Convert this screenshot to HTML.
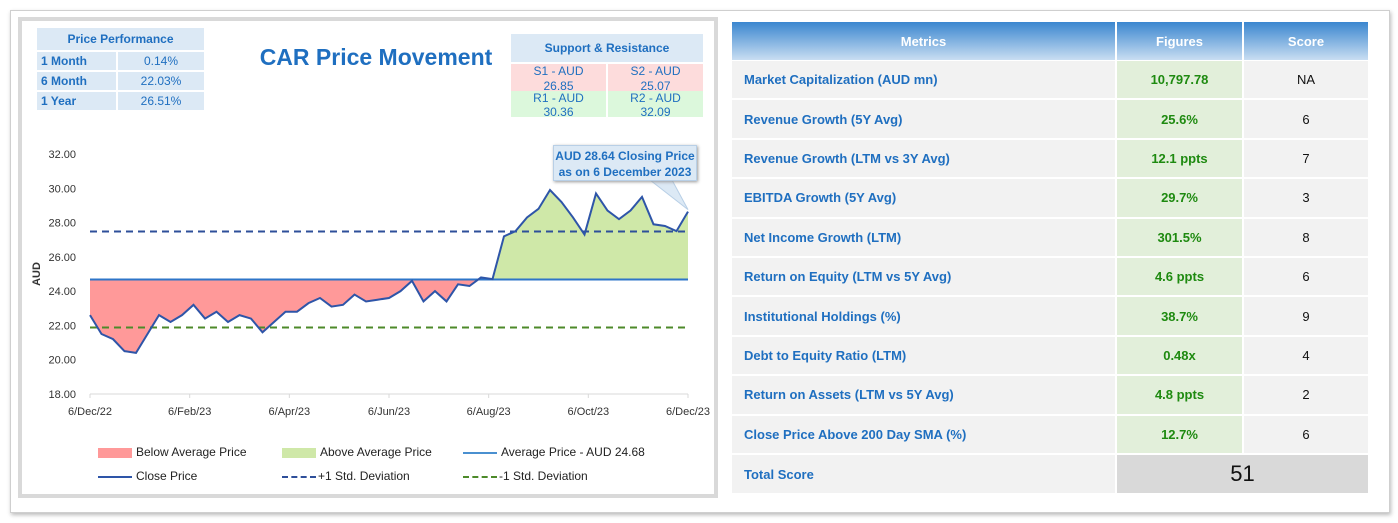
<!DOCTYPE html>
<html><head><meta charset="utf-8">
<style>
*{box-sizing:border-box;margin:0;padding:0}
body{width:1398px;height:523px;background:#fff;position:relative;overflow:hidden;font-family:"Liberation Sans",sans-serif}
.abs{position:absolute}
.c{display:flex;align-items:center;justify-content:center}
.pp{background:#dce9f5;color:#1f6fc0;font-size:12px;font-weight:bold}
.cell{position:absolute;display:flex;align-items:center;font-size:13px}
</style></head><body>
<div class="abs" style="left:10px;top:10px;width:1380px;height:503px;border:1px solid #cfcfcf;box-shadow:1px 2px 4px #bbb"></div>
<div class="abs" style="left:18px;top:17px;width:700px;height:481px;border:4px solid #d9d9d9;background:#fff"></div>

<!-- price performance -->
<div class="abs c pp" style="left:37px;top:28px;width:167px;height:22px">Price Performance</div>
<div class="abs pp" style="left:37px;top:52px;width:79px;height:18px;padding:2px 4px">1 Month</div>
<div class="abs c pp" style="left:118px;top:52px;width:86px;height:18px;font-weight:normal">0.14%</div>
<div class="abs pp" style="left:37px;top:72px;width:79px;height:18px;padding:2px 4px">6 Month</div>
<div class="abs c pp" style="left:118px;top:72px;width:86px;height:18px;font-weight:normal">22.03%</div>
<div class="abs pp" style="left:37px;top:92px;width:79px;height:18px;padding:2px 4px">1 Year</div>
<div class="abs c pp" style="left:118px;top:92px;width:86px;height:18px;font-weight:normal">26.51%</div>

<div class="abs" style="left:250px;top:44px;width:252px;text-align:center;font-size:23px;font-weight:bold;color:#1f6fc0">CAR Price Movement</div>

<!-- support resistance -->
<div class="abs c pp" style="left:511px;top:34px;width:192px;height:28px">Support &amp; Resistance</div>
<div class="abs" style="left:511px;top:64px;width:95px;height:27px;background:#fddcdc;color:#1f6fc0;font-size:12px;text-align:center;line-height:15px">S1 - AUD<br>26.85</div>
<div class="abs" style="left:608px;top:64px;width:95px;height:27px;background:#fddcdc;color:#1f6fc0;font-size:12px;text-align:center;line-height:15px">S2 - AUD<br>25.07</div>
<div class="abs" style="left:511px;top:91px;width:95px;height:26px;background:#dcf8dc;color:#1f6fc0;font-size:12px;text-align:center;line-height:14px">R1 - AUD<br>30.36</div>
<div class="abs" style="left:608px;top:91px;width:95px;height:26px;background:#dcf8dc;color:#1f6fc0;font-size:12px;text-align:center;line-height:14px">R2 - AUD<br>32.09</div>

<svg id="chart" class="abs" style="left:0;top:0" width="720" height="500"></svg>

<!-- callout -->
<div class="abs" style="left:553px;top:145px;width:144px;height:36px;background:#dce9f5;border:1px solid #b8cfe6;box-shadow:1px 1px 3px #999;color:#1f6fc0;font-size:12px;font-weight:bold;text-align:center;line-height:16px;padding-top:2px">AUD 28.64 Closing Price<br>as on 6 December 2023</div>

<!-- legend -->
<div class="abs" style="left:0;top:0;font-size:12px;color:#222">
 <div class="abs" style="left:98px;top:445px;width:260px;height:16px;white-space:nowrap"><span style="display:inline-block;width:34px;height:10px;background:#ff9999;vertical-align:middle;margin-right:4px"></span>Below Average Price</div>
 <div class="abs" style="left:282px;top:445px;white-space:nowrap"><span style="display:inline-block;width:34px;height:10px;background:#cfe8a8;vertical-align:middle;margin-right:4px"></span>Above Average Price</div>
 <div class="abs" style="left:463px;top:445px;white-space:nowrap"><span style="display:inline-block;width:34px;height:2px;background:#4a90d0;vertical-align:middle;margin-right:4px"></span>Average Price - AUD 24.68</div>
 <div class="abs" style="left:98px;top:469px;white-space:nowrap"><span style="display:inline-block;width:34px;height:2px;background:#2e55a8;vertical-align:middle;margin-right:4px"></span>Close Price</div>
 <div class="abs" style="left:282px;top:469px;white-space:nowrap"><span style="display:inline-block;width:34px;height:0;border-top:2px dashed #2e4f9a;vertical-align:middle;margin-right:2px"></span>+1 Std. Deviation</div>
 <div class="abs" style="left:463px;top:469px;white-space:nowrap"><span style="display:inline-block;width:34px;height:0;border-top:2px dashed #4d8a2a;vertical-align:middle;margin-right:2px"></span>-1 Std. Deviation</div>
</div>

<!-- metrics table -->
<div id="table"></div>

<script>
const prices=[22.6,21.5,21.2,20.5,20.4,21.5,22.6,22.2,22.6,23.2,22.4,22.8,22.2,22.6,22.4,21.6,22.2,22.8,22.8,23.3,23.6,23.1,23.2,23.8,23.4,23.5,23.6,24.0,24.6,23.4,24.0,23.4,24.4,24.3,24.8,24.7,27.2,27.5,28.3,28.8,29.9,29.2,28.3,27.3,29.7,28.7,28.2,28.7,29.5,27.9,27.8,27.5,28.64];
const average=24.68;
const plusStd=27.48;
const minusStd=21.88;
const yTicks=[18,20,22,24,26,28,30,32];
const xLabels=["6/Dec/22","6/Feb/23","6/Apr/23","6/Jun/23","6/Aug/23","6/Oct/23","6/Dec/23"];

const NS="http://www.w3.org/2000/svg";
const svg=document.getElementById('chart');
const X0=90,X1=688,Y18=394,Y32=154;
const xs=i=>X0+(X1-X0)*i/(prices.length-1);
const xl=i=>X0+(X1-X0)*i/(xLabels.length-1);
const ys=v=>Y18-(v-18)*(Y18-Y32)/14;
function mk(t,a){const e=document.createElementNS(NS,t);for(const k in a)e.setAttribute(k,a[k]);svg.appendChild(e);return e;}

// fills: below and above average via clipping
const defs=mk('defs',{});
const ya=ys(average);
let area="M"+xs(0)+","+ya;prices.forEach((p,i)=>area+=" L"+xs(i)+","+ys(p));area+=" L"+xs(prices.length-1)+","+ya+" Z";
const cb=document.createElementNS(NS,'clipPath');cb.setAttribute('id','cb');defs.appendChild(cb);
const r1=document.createElementNS(NS,'rect');r1.setAttribute('x',0);r1.setAttribute('y',ya);r1.setAttribute('width',720);r1.setAttribute('height',300);cb.appendChild(r1);
const ca=document.createElementNS(NS,'clipPath');ca.setAttribute('id','ca');defs.appendChild(ca);
const r2=document.createElementNS(NS,'rect');r2.setAttribute('x',0);r2.setAttribute('y',0);r2.setAttribute('width',720);r2.setAttribute('height',ya);ca.appendChild(r2);
let f1=mk('path',{d:area,fill:'#ff9999','clip-path':'url(#cb)'});


let f2=mk('path',{d:area,fill:'#cfe8a8','clip-path':'url(#ca)'});



// axis
let ax=mk('line',{x1:X0,x2:X1,y1:Y18,y2:Y18,stroke:'#d9d9d9'});


xLabels.forEach((l,i)=>{
 let tk=mk('line',{x1:xl(i),x2:xl(i),y1:Y18,y2:Y18+4,stroke:'#d9d9d9'});
 
 
 let t=mk('text',{x:xl(i),y:Y18+21,'font-size':11,'text-anchor':'middle',fill:'#333','font-family':'Liberation Sans'});
 t.textContent=l;
 
 
});
yTicks.forEach(v=>{
 let t=mk('text',{x:76,y:ys(v)+4,'font-size':11,'text-anchor':'end',fill:'#333','font-family':'Liberation Sans'});
 t.textContent=v.toFixed(2);
 
 
});
let yt=mk('text',{x:0,y:0,'font-size':11,'font-weight':'bold','text-anchor':'middle',fill:'#333',transform:`translate(40,${ys(25)}) rotate(-90)`,'font-family':'Liberation Sans'});
yt.textContent='AUD';



let l1=mk('line',{x1:X0,x2:X1,y1:ys(plusStd),y2:ys(plusStd),stroke:'#2e4f9a','stroke-width':2,'stroke-dasharray':'7,5'});


let l2=mk('line',{x1:X0,x2:X1,y1:ys(minusStd),y2:ys(minusStd),stroke:'#4d8a2a','stroke-width':2,'stroke-dasharray':'7,5'});


let l3=mk('line',{x1:X0,x2:X1,y1:ya,y2:ya,stroke:'#2e75c8','stroke-width':2});


let pl=mk('polyline',{points:prices.map((p,i)=>xs(i)+","+ys(p)).join(" "),fill:'none',stroke:'#2e55a8','stroke-width':2});


let ptr=mk('polygon',{points:`650,180 672,180 ${xs(prices.length-1)},${ys(prices[prices.length-1])-2}`,fill:'#dce9f5',stroke:'#b8cfe6'});



// table
const metrics=["Market Capitalization (AUD mn)","Revenue Growth (5Y Avg)","Revenue Growth (LTM vs 3Y Avg)","EBITDA Growth (5Y Avg)","Net Income Growth (LTM)","Return on Equity (LTM vs 5Y Avg)","Institutional Holdings (%)","Debt to Equity Ratio (LTM)","Return on Assets (LTM vs 5Y Avg)","Close Price Above 200 Day SMA (%)"];
const figures=["10,797.78","25.6%","12.1 ppts","29.7%","301.5%","4.6 ppts","38.7%","0.48x","4.8 ppts","12.7%"];
const scores=["NA","6","7","3","8","6","9","4","2","6"];
const tb=document.getElementById('table');
function cell(name,x,y,w,h,txt,st){const d=document.createElement('div');d.className='cell';d.style.cssText=`left:${x}px;top:${y}px;width:${w}px;height:${h}px;`+st;d.textContent=txt;
 
 
 tb.appendChild(d);}
const hs='background:linear-gradient(to bottom,#3a86cf,#c9def2);color:#fff;font-weight:bold;justify-content:center;';
cell('header-metrics',732,22,383,38,'Metrics',hs);
cell('header-figures',1117,22,125,38,'Figures',hs);
cell('header-score',1244,22,124,38,'Score',hs);
const RH=39.4;
metrics.forEach((m,i)=>{const y=61+i*RH;
 cell('metric-name',732,y,383,RH-2,m,'background:#f2f2f2;color:#1f6fc0;font-weight:bold;padding-left:12px;');
 cell('metric-figure',1117,y,125,RH-2,figures[i],'background:#e2efda;color:#1e8a10;font-weight:bold;justify-content:center;');
 cell('metric-score',1244,y,124,RH-2,scores[i],'background:#f2f2f2;color:#111;justify-content:center;');
});
const ty=61+10*RH;
cell('total-score-label',732,ty,383,RH-1,'Total Score','background:#f2f2f2;color:#1f6fc0;font-weight:bold;padding-left:12px;');
cell('total-score-value',1117,ty,251,RH-1,'51','background:#d9d9d9;color:#111;font-size:22px;justify-content:center;');
</script>
</body></html>
